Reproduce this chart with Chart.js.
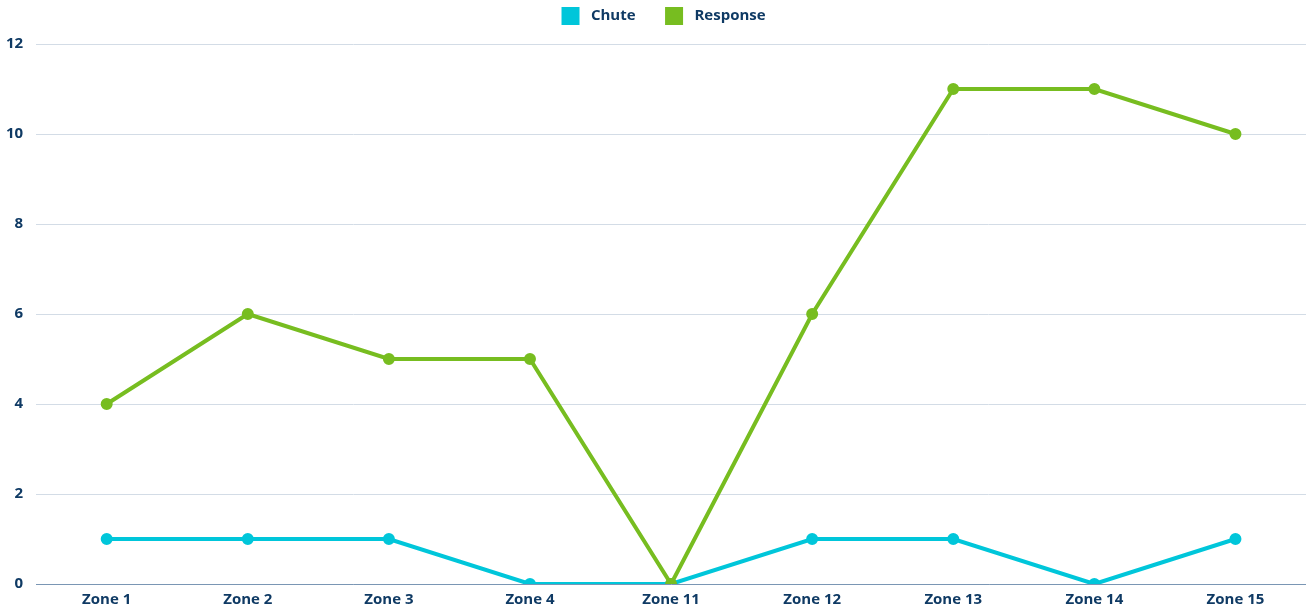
<!DOCTYPE html>
<html>
<head>
<meta charset="utf-8">
<script src="https://cdn.jsdelivr.net/npm/chart.js@4/dist/chart.umd.min.js"></script>
<style>
  html, body { margin: 0; padding: 0; background: #fff; overflow: hidden; }
  canvas { display: block; }
</style>
</head>
<body>
<canvas id="chart" width="1306" height="609"></canvas>
<script>
const zones = ['Zone 1', 'Zone 2', 'Zone 3', 'Zone 4', 'Zone 11', 'Zone 12', 'Zone 13', 'Zone 14', 'Zone 15'];
const chuteValues = [1, 1, 1, 0, 0, 1, 1, 0, 1];
const responseValues = [4, 6, 5, 5, 0, 6, 11, 11, 10];
const yTicks = [0, 2, 4, 6, 8, 10, 12];

const navy = '#0f3a64';
const cyan = '#00c6da';
const green = '#77bd20';

Chart.defaults.font.family = "'Open Sans', sans-serif";
Chart.defaults.font.weight = 'bold';
Chart.defaults.color = navy;

// give the legend a bit more room below it without pushing the items down
const legendGap = {
  id: 'legendGap',
  beforeLayout(chart) {
    const legend = chart.legend;
    if (!legend || legend._gapPatched) return;
    const fit = legend.fit;
    legend.fit = function() {
      fit.call(this);
      this.height += 9;
    };
    legend._gapPatched = true;
  }
};

let ctx = document.getElementById('chart').getContext('2d');

const chart = new Chart(ctx, {
  type: 'line',
  data: {
    labels: zones,
    datasets: [{
      label: 'Chute',
      data: chuteValues,
      borderColor: cyan,
      backgroundColor: cyan,
      borderWidth: 4,
      pointRadius: 4,
      pointHoverRadius: 5,
      tension: 0,
      order: 1
    }, {
      label: 'Response',
      data: responseValues,
      borderColor: green,
      backgroundColor: green,
      borderWidth: 4,
      pointRadius: 4,
      pointHoverRadius: 5,
      tension: 0,
      order: 0 // drawn above Chute
    }]
  },
  options: {
    responsive: false,
    animation: false,
    // scale tick padding is counted on both sides of the labels, so pull back
    layout: { autoPadding: false, padding: { left: -7, right: 0, top: 0, bottom: -7 } },
    plugins: {
      legend: {
        position: 'top',
        fullSize: false,
        labels: {
          boxWidth: 18,
          boxHeight: 18,
          padding: 7,
          font: { size: 15, weight: 'bold' },
          sort: (a, b) => a.datasetIndex - b.datasetIndex,
          generateLabels(chart) {
            const items = Chart.defaults.plugins.legend.labels.generateLabels(chart);
            items.forEach(item => {
              item.lineWidth = 0;
              item.text = ' ' + item.text + (item.datasetIndex === 0 ? '\u2003\u2002' : '\u2003');
            });
            return items;
          }
        }
      }
    },
    scales: {
      x: {
        offset: true,
        grid: { display: false, drawTicks: false },
        border: { display: true, color: '#7a96b4' },
        ticks: { font: { size: 15, weight: 'bold' }, padding: 7 }
      },
      y: {
        min: yTicks[0],
        max: yTicks[yTicks.length - 1],
        afterBuildTicks(scale) {
          scale.ticks = yTicks.map(v => ({ value: v }));
        },
        ticks: { font: { size: 15, weight: 'bold' }, padding: 13 },
        grid: { color: '#d3dce6', drawTicks: false },
        border: { display: false }
      }
    }
  },
  plugins: [legendGap]
});
</script>
</body>
</html>
